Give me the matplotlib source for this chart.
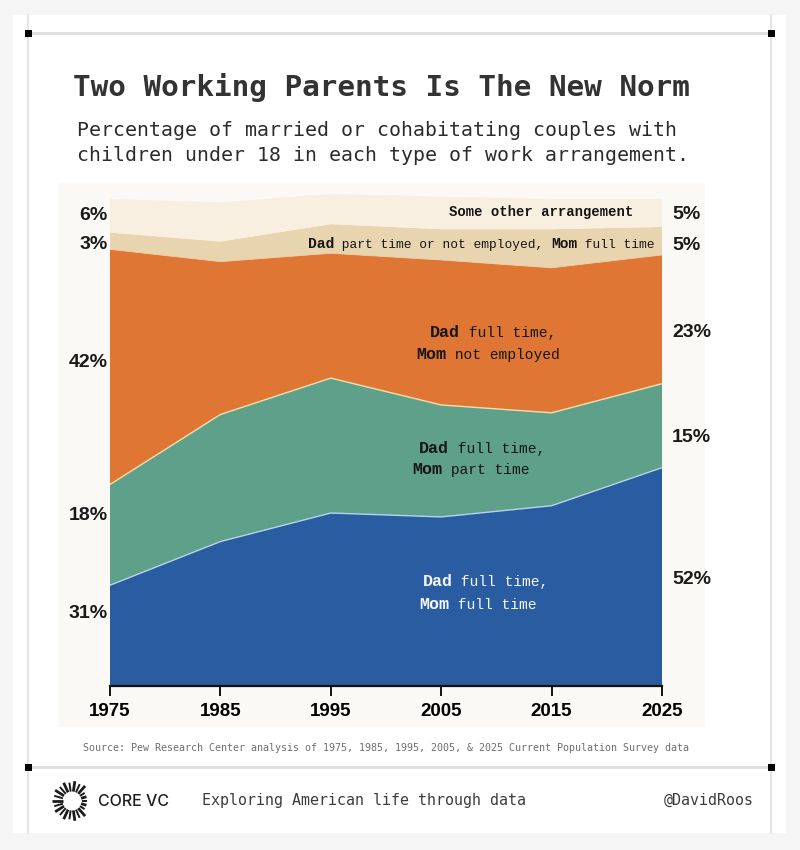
import numpy as np
import matplotlib
matplotlib.use("Agg")
import matplotlib.pyplot as plt
from matplotlib.patches import Rectangle
from matplotlib.lines import Line2D

# data (percent of couples)
years = [1975, 1985, 1995, 2005, 2015, 2025]
both_full = [31, 38.8, 43.9, 43.2, 45.2, 52]
mom_part = [18, 22.7, 24.1, 20.0, 16.6, 15]
mom_not = [42, 27.3, 22.3, 25.9, 25.9, 23]
dad_part = [3, 3.6, 5.2, 5.5, 6.9, 5]
other = [6, 7.0, 5.4, 5.8, 5.4, 5]

left_labels = ["31%", "18%", "42%", "3%", "6%"]
right_labels = ["52%", "15%", "23%", "5%", "5%"]
left_label_y = [25.9, 43.4, 70.7, 91.8, 97.1]
right_label_y = [32.0, 57.3, 76.2, 91.6, 97.3]

colors = ["#2a5ca1", "#5fa08a", "#e07633", "#e8d5b0", "#f8efe1"]

W, H = 800, 850
fig = plt.figure(figsize=(8, 8.5), dpi=100)
fig.patch.set_facecolor("#f5f5f5")

def fx(px):
    return px / W

def fy(py):
    return 1 - py / H

# card + frame (kept under the axes)
fig.add_artist(Rectangle((fx(13), fy(833)), (786 - 13) / W, (833 - 15) / H,
                         transform=fig.transFigure, facecolor="white", edgecolor="none", zorder=-5))
for x in [28, 771]:
    fig.add_artist(Line2D([fx(x), fx(x)], [fy(15), fy(833)], transform=fig.transFigure,
                          color="#e4e4e4", lw=1.5, zorder=-4))
for y in [33, 767]:
    fig.add_artist(Line2D([fx(28), fx(771)], [fy(y), fy(y)], transform=fig.transFigure,
                          color="#dedede", lw=2, zorder=-4))
    for x in [28, 771]:
        fig.add_artist(Rectangle((fx(x - 3.5), fy(y + 3.5)), 7 / W, 7 / H,
                                 transform=fig.transFigure, facecolor="black", edgecolor="none", zorder=-3))

# chart panel
fig.add_artist(Rectangle((fx(58), fy(727)), (705 - 58) / W, (727 - 183) / H,
                         transform=fig.transFigure, facecolor="#faf9f6", edgecolor="none", zorder=-2))

# title + subtitle
mono = "DejaVu Sans Mono"
fig.text(fx(73), fy(96), "Two Working Parents Is The New Norm", family=mono, weight="bold",
         fontsize=21.2, color="#333333", va="baseline", ha="left")
fig.text(fx(77), fy(136), "Percentage of married or cohabitating couples with", family=mono,
         fontsize=14.3, color="#2b2b2b", va="baseline", ha="left")
fig.text(fx(77), fy(161), "children under 18 in each type of work arrangement.", family=mono,
         fontsize=14.3, color="#2b2b2b", va="baseline", ha="left")

# main chart
ax = fig.add_axes([fx(110), fy(686), 552 / W, 496 / H])
ax.patch.set_visible(False)
ax.stackplot(years, both_full, mom_part, mom_not, dad_part, other, colors=colors, lw=0)
cum = np.cumsum([both_full, mom_part, mom_not, dad_part], axis=0)
ax.plot(years, cum[0], color="#b9d2ea", lw=1)
ax.plot(years, cum[1], color="#f1dfae", lw=1)
ax.plot(years, cum[2], color="#f0c9a0", lw=0.6)
ax.set_xlim(1975, 2025)
ax.set_ylim(13.0, 101.6)

for s in ["top", "left", "right"]:
    ax.spines[s].set_visible(False)
ax.spines["bottom"].set_linewidth(1.6)
ax.spines["bottom"].set_color("#111111")
ax.set_yticks([])
ax.set_xticks(years)
narrow = "Liberation Sans"
ax.set_xticklabels([str(y) for y in years], family=narrow, weight="bold", fontsize=13.5)
ax.tick_params(axis="x", direction="out", length=7, width=1.4, color="#111111", pad=5)

# end labels
for lab, y in zip(left_labels, left_label_y):
    ax.text(1974.8, y, lab, ha="right", va="center", family=narrow, weight="bold",
            fontsize=14, color="#1a1a1a", clip_on=False)
for lab, y in zip(right_labels, right_label_y):
    ax.text(2025.9, y, lab, ha="left", va="center", family=narrow, weight="bold",
            fontsize=14, color="#1a1a1a", clip_on=False)

lab_font = "Liberation Mono"

def piece_text(x, y, parts, color, size=10.5, bold_size=12):
    t = None
    for s, bold in parts:
        kw = dict(family=lab_font, color=color, fontsize=bold_size if bold else size,
                  weight="bold" if bold else "normal")
        if t is None:
            t = ax.text(x, y, s, ha="left", va="center", **kw)
        else:
            t = ax.annotate(s, xy=(1, 0), xycoords=t, ha="left", va="bottom", **kw)

dark = "#161616"
piece_text(2005.7, 97.7, [("Some other arrangement", True)], dark, bold_size=10)
piece_text(1992.9, 92.0, [("Dad", True), (" part time or not employed, ", False),
                          ("Mom", True), (" full time", False)], dark, size=9.3, bold_size=10.5)
piece_text(2004.0, 76.2, [("Dad", True), (" full time,", False)], dark)
piece_text(2002.7, 72.3, [("Mom", True), (" not employed", False)], dark)
piece_text(2003.0, 55.5, [("Dad", True), (" full time,", False)], dark)
piece_text(2002.4, 51.6, [("Mom", True), (" part time", False)], dark)
piece_text(2003.3, 31.6, [("Dad", True), (" full time,", False)], "#f4f6fa")
piece_text(2003.0, 27.5, [("Mom", True), (" full time", False)], "#f4f6fa")

# source + footer
fig.text(fx(83), fy(748), "Source: Pew Research Center analysis of 1975, 1985, 1995, 2005, & 2025 Current Population Survey data",
         family=mono, fontsize=7.2, color="#6e6e6e", va="center", ha="left")
fig.text(fx(202), fy(800), "Exploring American life through data", family=mono, fontsize=10.8,
         color="#3c3c3c", va="center", ha="left")
fig.text(fx(754), fy(800), "@DavidRoos", family=mono, fontsize=10.8,
         color="#3c3c3c", va="center", ha="right")

# sunburst logo
cx, cy = 72, 801
for i, a in enumerate(np.linspace(0, 2 * np.pi, 22, endpoint=False)):
    r0 = 9.5
    r1 = 15 if np.cos(a) > 0.8 else 18.5 + 1.5 * (i % 2)
    fig.add_artist(Line2D([fx(cx + r0 * np.cos(a)), fx(cx + r1 * np.cos(a))],
                          [fy(cy - r0 * np.sin(a)), fy(cy - r1 * np.sin(a))],
                          transform=fig.transFigure, color="#1c1c1c",
                          lw=1.4 + 0.6 * (i % 2), solid_capstyle="butt"))
fig.text(fx(98), fy(801), "CORE VC", family="Inter", weight="medium", fontsize=11.5,
         color="#1e1e1e", va="center", ha="left")

fig.savefig("out.png", dpi=100)
